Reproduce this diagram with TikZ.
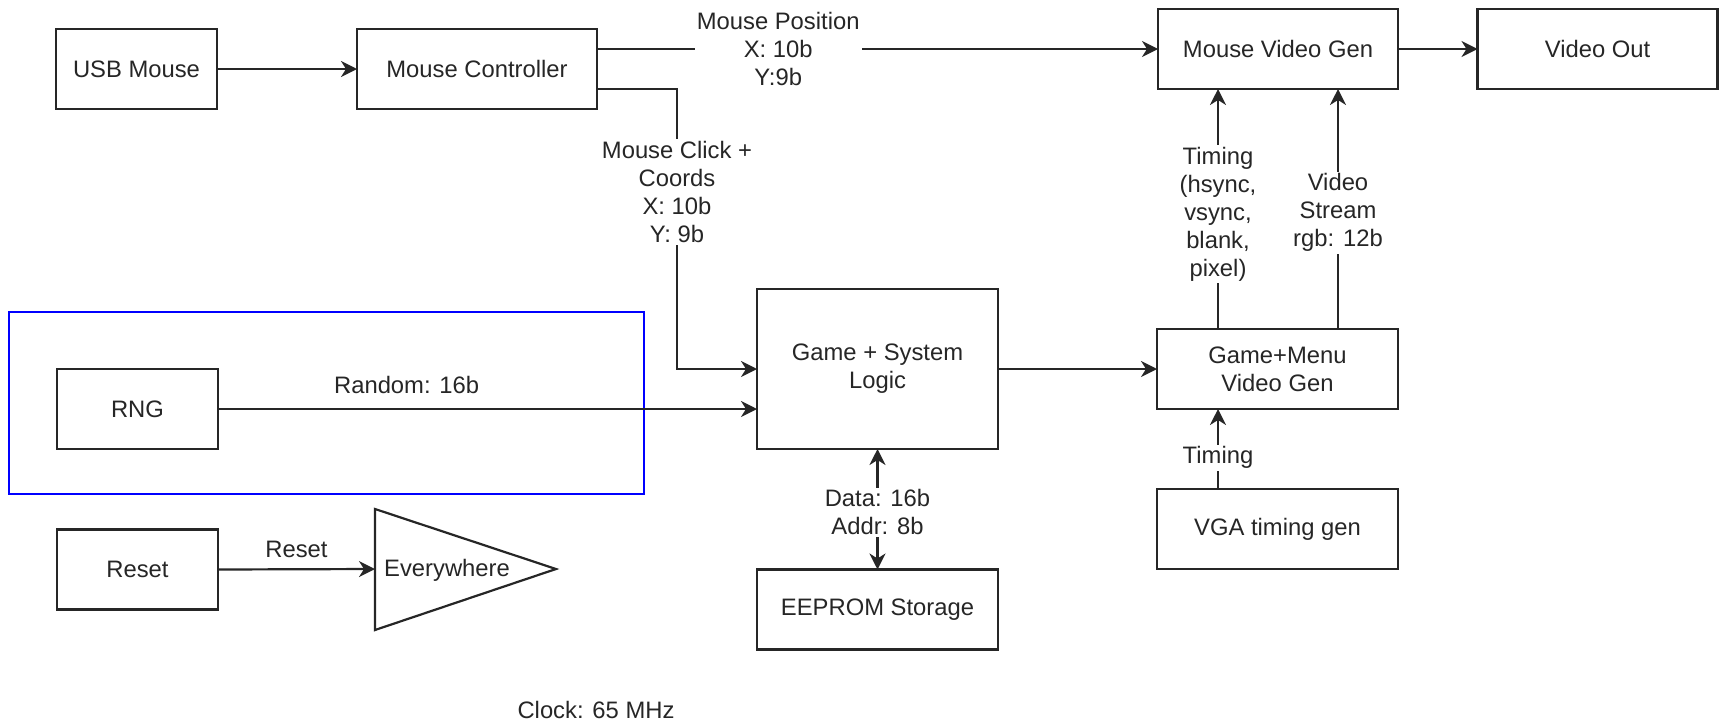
\documentclass[tikz,border=0pt]{standalone}
\usepackage{fontspec}
\setmainfont{Liberation Sans}
\usetikzlibrary{arrows.meta,calc}
\begin{document}
\begin{tikzpicture}[x=0.5pt,y=-0.5pt,
  every node/.style={font=\fontsize{11.9pt}{14pt}\selectfont, align=center, text=black!85},
  blk/.style={draw=black!85, line width=1.1pt, minimum height=40pt, inner sep=0pt, outer sep=0pt},
  conn/.style={draw=black!85, line width=1.1pt, -{Stealth[length=8pt,width=8pt,inset=2.5pt]}},
  biconn/.style={draw=black!85, line width=1.1pt, {Stealth[length=8pt,width=8pt,inset=2.5pt]}-{Stealth[length=8pt,width=8pt,inset=2.5pt]}},
  lbl/.style={fill=white, inner sep=1pt}
]
\useasboundingbox (0,0) rectangle (1719,723);

% group frame
\draw[blue, line width=1pt] (9,312) rectangle (644,494);

% blocks
\node[blk, minimum width=80.5pt] (usb) at (136.5,69) {USB Mouse};
\node[blk, minimum width=120pt] (mc) at (477,69) {Mouse Controller};
\node[blk, minimum width=120pt] (mvg) at (1278,49) {Mouse Video Gen};
\node[blk, minimum width=120pt] (vout) at (1597.5,49) {Video Out};
\node[blk, minimum width=120.5pt, minimum height=80pt] (gsl) at (877.5,369) {Game + System\\Logic};
\node[blk, minimum width=120.5pt] (gmv) at (1277.5,369) {Game+Menu\\Video Gen};
\node[blk, minimum width=120.5pt] (vga) at (1277.5,529) {VGA timing gen};
\node[blk, minimum width=80.5pt] (rng) at (137.5,409) {RNG};
\node[blk, minimum width=80.5pt] (rst) at (137.5,569.5) {Reset};
\node[blk, minimum width=120.5pt] (eep) at (877.5,609.5) {EEPROM Storage};

% triangle "Everywhere"
\draw[draw=black!85, line width=1.1pt] (375,509) -- (556,569) -- (375,630) -- cycle;
\coordinate (triL) at (375,569);
\node (ev) at (447,570) {Everywhere};

% clock text
\node (clk) at (596,710) {Clock: 65 MHz};

% helper coordinates
\coordinate (mcx) at (677,0);
\coordinate (t1) at (1218,0);
\coordinate (t2) at (1338,0);

% connectors
\draw[conn] (usb.east) -- (mc.east -| mc.west);
\draw[conn] ([yshift=10pt]mc.east) -- node[lbl, pos=0.323] {Mouse Position\\X: 10b\\Y:9b} (mvg.west);
\draw[conn] ([yshift=-10pt]mc.east) -| node[lbl, pos=0.684] {Mouse Click +\\Coords\\X: 10b\\Y: 9b} (mcx |- gsl.west) -- (gsl.west);
\draw[conn] (rng.east) -- node[above=6pt, pos=0.35, inner sep=1pt] {Random: 16b} (rng.east -| gsl.west);
\draw[conn] (gsl.east) -- (gmv.west);
\draw[biconn] (gsl.south) -- node[lbl, pos=0.525] {Data: 16b\\Addr: 8b} (eep.north);
\draw[conn] (mvg.east) -- (vout.west);
\draw[conn] (t1 |- gmv.north) -- node[lbl, pos=0.479] {Timing\\(hsync,\\vsync,\\blank,\\pixel)} (t1 |- mvg.south);
\draw[conn] (t2 |- gmv.north) -- node[lbl, pos=0.485] {Video\\Stream\\rgb: 12b} (t2 |- mvg.south);
\draw[conn] (t1 |- vga.north) -- node[lbl, pos=0.39] {Timing} (t1 |- gmv.south);
\draw[conn] (rst.east) -- node[above=4pt, pos=0.5, inner sep=1pt] {Reset} (triL);
\end{tikzpicture}
\end{document}
